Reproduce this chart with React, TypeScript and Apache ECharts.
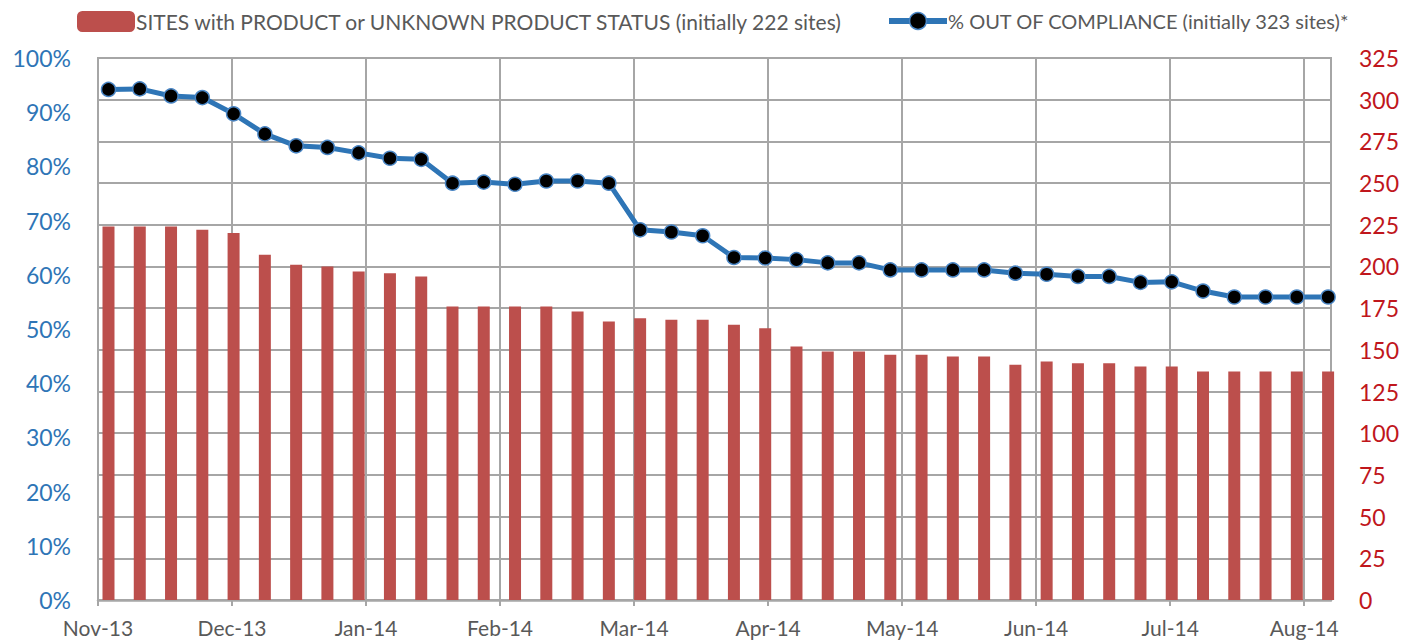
import React, { useEffect, useRef } from "react";
import * as echarts from "echarts";

// Month tick labels (ticks spaced every 30 days on the date axis)
const monthLabels = ["Nov-13", "Dec-13", "Jan-14", "Feb-14", "Mar-14", "Apr-14", "May-14", "Jun-14", "Jul-14", "Aug-14"];

// Sites with product or unknown product status (right axis)
const sitesWithProduct = [
  224, 224, 224, 222, 220, 207, 201, 200, 197, 196,
  194, 176, 176, 176, 176, 173, 167, 169, 168, 168,
  165, 163, 152, 149, 149, 147, 147, 146, 146, 141,
  143, 142, 142, 140, 140, 137, 137, 137, 137, 137,
];

// % out of compliance (left axis)
const pctOutOfCompliance = [
  94.2, 94.3, 93.0, 92.7, 89.7, 86.0, 83.8, 83.5, 82.5, 81.5,
  81.3, 76.9, 77.1, 76.7, 77.3, 77.3, 76.9, 68.3, 67.9, 67.2,
  63.2, 63.1, 62.8, 62.2, 62.2, 60.9, 60.9, 60.9, 60.9, 60.3,
  60.1, 59.7, 59.7, 58.6, 58.7, 57.0, 55.9, 55.9, 55.9, 55.9,
];

const barName = "SITES with PRODUCT or UNKNOWN PRODUCT STATUS (initially 222 sites)";
const lineName = "% OUT OF COMPLIANCE (initially 323 sites)*";

// weekly reports: day offset of the first report from the Nov-13 tick, weekly step
const FIRST_REPORT_DAY = 2.35;
const DAYS_PER_WEEK = 7;
const DAYS_PER_TICK = 30;
const AXIS_END_DAY = 276;

const FONT = "Lato, 'Open Sans', sans-serif";
const GRID = "#A6A6A6";
const BLUE = "#2E75B6";

export default function App() {
  const ref = useRef<HTMLDivElement>(null);

  useEffect(() => {
    if (!ref.current) return;
    const chart = echarts.init(ref.current, null, { renderer: "svg" });
    const dayOf = (i: number) => FIRST_REPORT_DAY + DAYS_PER_WEEK * i;
    const tickVals = monthLabels.map((_, k) => k * DAYS_PER_TICK);

    chart.setOption({
      animation: false,
      backgroundColor: "#fff",
      textStyle: { fontFamily: FONT },
      legend: [
        {
          data: [barName],
          left: 77,
          top: 11,
          padding: 0,
          itemWidth: 58,
          itemHeight: 21,
          textStyle: { fontFamily: FONT, fontSize: 21, color: "#595959", padding: [0, 0, 0, -4] },
          selectedMode: false,
        },
        {
          data: [lineName],
          left: 886,
          top: 11,
          padding: 0,
          itemWidth: 58,
          itemHeight: 21,
          lineStyle: { width: 6, color: BLUE },
          itemStyle: { color: "#000000", borderColor: "#4A86C5", borderWidth: 1.5 },
          textStyle: { fontFamily: FONT, fontSize: 20, color: "#595959", padding: [0, 0, 0, -4] },
          selectedMode: false,
        },
      ],
      grid: {
        left: 98,
        right: 86,
        top: 58,
        bottom: 42,
        show: true,
        borderColor: GRID,
        borderWidth: 2,
      },
      xAxis: {
        type: "value",
        min: 0,
        max: AXIS_END_DAY,
        interval: DAYS_PER_TICK,
        axisLine: { show: true, lineStyle: { color: GRID, width: 2.5 } },
        axisTick: {
          show: true,
          length: 6,
          lineStyle: { color: GRID, width: 2 },
          customValues: tickVals,
        },
        axisLabel: {
          customValues: tickVals,
          margin: 17,
          fontFamily: FONT,
          fontSize: 21,
          color: "#595959",
          formatter: (v: number) => {
            const k = Math.round(v / DAYS_PER_TICK);
            return Math.abs(v - k * DAYS_PER_TICK) < 0.01 ? monthLabels[k] ?? "" : "";
          },
        },
        splitLine: { show: true, lineStyle: { color: GRID, width: 2 } },
      },
      yAxis: [
        {
          type: "value",
          min: 0,
          max: 100,
          interval: 10,
          position: "left",
          axisLine: { show: false },
          axisTick: { show: false },
          splitLine: { show: false },
          axisLabel: {
            margin: 27,
            fontFamily: FONT,
            fontSize: 23,
            color: BLUE,
            formatter: "{value}%",
          },
        },
        {
          type: "value",
          min: 0,
          max: 325,
          interval: 25,
          position: "right",
          axisLine: { show: false },
          axisTick: { show: false },
          splitLine: { show: true, lineStyle: { color: GRID, width: 2 } },
          axisLabel: {
            margin: 28,
            fontFamily: FONT,
            fontSize: 23,
            color: "#C0161C",
          },
        },
      ],
      series: [
        {
          name: barName,
          type: "bar",
          yAxisIndex: 1,
          barWidth: 12,
          clip: true,
          itemStyle: { color: "#BC4F4C" },
          data: sitesWithProduct.map((v, i) => [dayOf(i), v]),
          z: 2,
        },
        {
          name: lineName,
          type: "line",
          yAxisIndex: 0,
          symbol: "circle",
          symbolSize: 14,
          lineStyle: { color: BLUE, width: 5 },
          itemStyle: { color: "#000000", borderColor: "#4A86C5", borderWidth: 1.5 },
          data: pctOutOfCompliance.map((v, i) => [dayOf(i), v]),
          z: 3,
        },
      ],
    });

    return () => chart.dispose();
  }, []);

  return (
    <div
      ref={ref}
      style={{ position: "absolute", left: 0, top: 0, width: 1417, height: 642, background: "#fff" }}
    />
  );
}
